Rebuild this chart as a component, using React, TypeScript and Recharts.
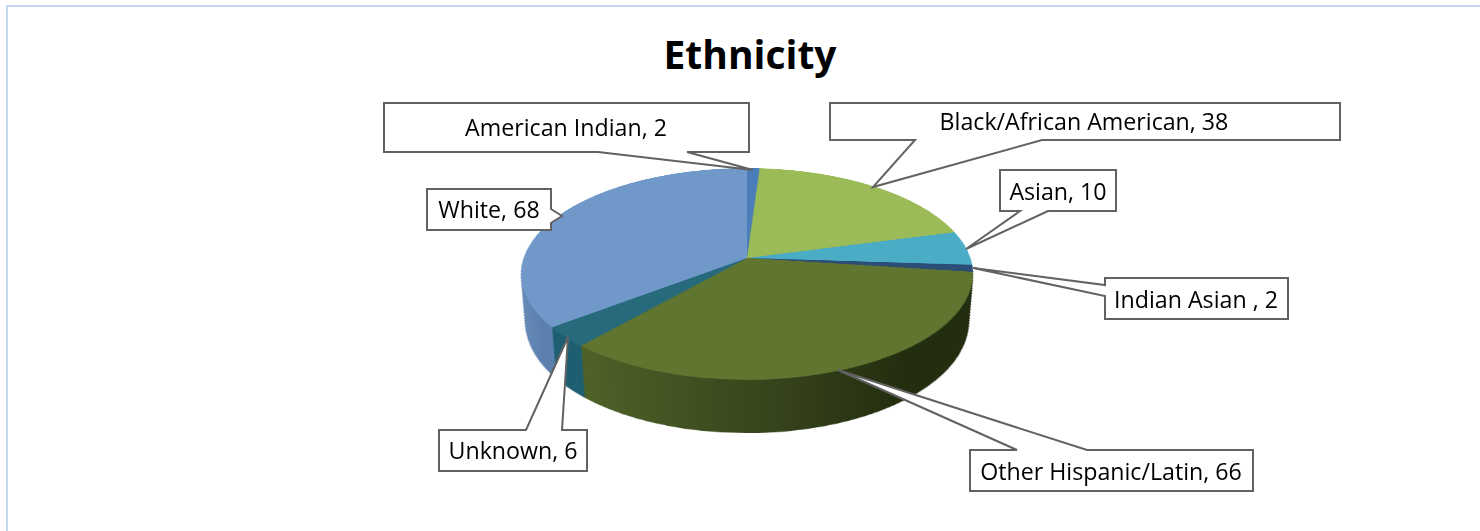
import { PieChart, Pie, Cell } from 'recharts'

const CATEGORIES = ['American Indian', 'Black/African American', 'Asian', 'Indian Asian ', 'Other Hispanic/Latin', 'Unknown', 'White']
const VALUES = [2, 38, 10, 2, 66, 6, 68]
const TOP_COLORS = ['#4a7ebb', '#9bbb59', '#4bacc6', '#2c4d75', '#5f7530', '#276a7c', '#7099ca']
const SIDE_COLORS = ['#3f6a9e', '#7f9a48', '#3b8ba1', '#223c5b', 'url(#sideGreen)', '#1f5f72', 'url(#sideBlue)']

const pieData = CATEGORIES.map((name, i) => ({ name, value: VALUES[i] }))

const FONT = '"Open Sans", "Noto Sans", sans-serif'

// pie plane, tilted with a css perspective so it matches the Excel 3D look
const PLANE = 640
const RADIUS = 223.4
const DEPTH_OFFSET = 96
const DEPTH_SHRINK = 0.082
const LAYERS = 64

// callout boxes: box rect + wedge polygon points going round the box
const CALLOUTS = [
  { i: 0, x: 384, y: 103, w: 365, h: 49, tx: 566, ty: 127, wedge: [[687, 152], [753, 170], [598, 152]] },
  { i: 1, x: 830, y: 103, w: 510, h: 37, tx: 1084, ty: 121, wedge: [[1042, 140], [873, 187], [915, 140]] },
  { i: 2, x: 1000, y: 170, w: 116, h: 41, tx: 1058, ty: 191, wedge: [[1048, 211], [966, 249], [1020, 211]] },
  { i: 3, x: 1105, y: 278, w: 183, h: 41, tx: 1196, ty: 299, wedge: [[1105, 285], [973, 268], [1105, 296]] },
  { i: 4, x: 970, y: 450, w: 283, h: 41, tx: 1111, ty: 471, wedge: [[1087, 450], [838, 370], [1017, 450]] },
  { i: 5, x: 439, y: 430, w: 148, h: 41, tx: 513, ty: 450, wedge: [[562, 430], [568, 337], [526, 430]] },
  { i: 6, x: 427, y: 189, w: 124, h: 41, tx: 489, ty: 209, wedge: [[551, 223], [562, 216], [551, 209]] },
]

function calloutPath(c: typeof CALLOUTS[number]) {
  const r = c.x + c.w
  const b = c.y + c.h
  const tip = c.wedge.map((p) => p.join(' ')).join(' L')
  if (c.wedge[0][1] === b && c.wedge[2][1] === b) {
    return `M${c.x} ${c.y} L${r} ${c.y} L${r} ${b} L${tip} L${c.x} ${b} Z`
  }
  if (c.wedge[0][1] === c.y && c.wedge[2][1] === c.y) {
    return `M${c.x} ${c.y} L${c.wedge[2].join(' ')} L${c.wedge[1].join(' ')} L${c.wedge[0].join(' ')} L${r} ${c.y} L${r} ${b} L${c.x} ${b} Z`
  }
  if (c.wedge[0][0] === c.x) {
    return `M${c.x} ${c.y} L${r} ${c.y} L${r} ${b} L${c.x} ${b} L${c.wedge[2].join(' ')} L${c.wedge[1].join(' ')} L${c.wedge[0].join(' ')} Z`
  }
  return `M${c.x} ${c.y} L${r} ${c.y} L${c.wedge[2].join(' ')} L${c.wedge[1].join(' ')} L${c.wedge[0].join(' ')} L${r} ${b} L${c.x} ${b} Z`
}

const layers = Array.from({ length: LAYERS }, (_, i) => 1 - i / (LAYERS - 1))

export default function App() {
  return (
    <div style={{ position: 'absolute', left: 0, top: 0, width: 1480, height: 531, background: '#fff', overflow: 'hidden', fontFamily: FONT }}>
      <div style={{ position: 'absolute', left: 6, top: 5, right: 0, height: 2, background: '#c6d9f1' }} />
      <div style={{ position: 'absolute', left: 6, top: 5, bottom: 0, width: 2, background: '#c6d9f1' }} />

      <div style={{ position: 'absolute', left: 600, width: 300, top: 28, textAlign: 'center', fontSize: 39, fontWeight: 700, lineHeight: '52px', color: '#000' }}>
        Ethnicity
      </div>

      <div style={{ position: 'absolute', left: 747 - PLANE / 2, top: 258 - PLANE / 2, width: PLANE, height: PLANE, transform: 'perspective(1311px) rotateX(62.4deg)' }}>
        <PieChart width={PLANE} height={PLANE} margin={{ top: 0, right: 0, bottom: 0, left: 0 }}>
          <defs>
            <linearGradient id="sideGreen" x1="0" y1="0" x2="1" y2="0">
              <stop offset="0%" stopColor="#4f6228" />
              <stop offset="50%" stopColor="#34411a" />
              <stop offset="78%" stopColor="#232d10" />
              <stop offset="100%" stopColor="#232d10" />
            </linearGradient>
            <linearGradient id="sideBlue" x1="0" y1="0" x2="1" y2="0">
              <stop offset="0%" stopColor="#6a8cb8" />
              <stop offset="15%" stopColor="#5b80ae" />
              <stop offset="100%" stopColor="#5b80ae" />
            </linearGradient>
          </defs>
          {layers.map((t) => (
            <Pie
              key={t}
              data={pieData}
              dataKey="value"
              cx={PLANE / 2}
              cy={PLANE / 2 + DEPTH_OFFSET * t}
              innerRadius={0}
              outerRadius={RADIUS * (1 - DEPTH_SHRINK * t)}
              startAngle={90}
              endAngle={-270}
              stroke="none"
              isAnimationActive={false}
              label={false}
              labelLine={false}
            >
              {pieData.map((_, idx) => (
                <Cell key={idx} fill={t === 0 ? TOP_COLORS[idx] : SIDE_COLORS[idx]} />
              ))}
            </Pie>
          ))}
        </PieChart>
      </div>

      <svg width={1480} height={531} style={{ position: 'absolute', left: 0, top: 0 }}>
        {CALLOUTS.map((c) => (
          <g key={c.i}>
            <path d={calloutPath(c)} fill="#fff" stroke="#626262" strokeWidth={2} />
            <text x={c.tx} y={c.ty} textAnchor="middle" dominantBaseline="central" fontSize={23.2} fill="#000" xmlSpace="preserve" style={{ whiteSpace: 'pre' }}>
              {`${CATEGORIES[c.i]}, ${VALUES[c.i]}`}
            </text>
          </g>
        ))}
      </svg>
    </div>
  )
}
